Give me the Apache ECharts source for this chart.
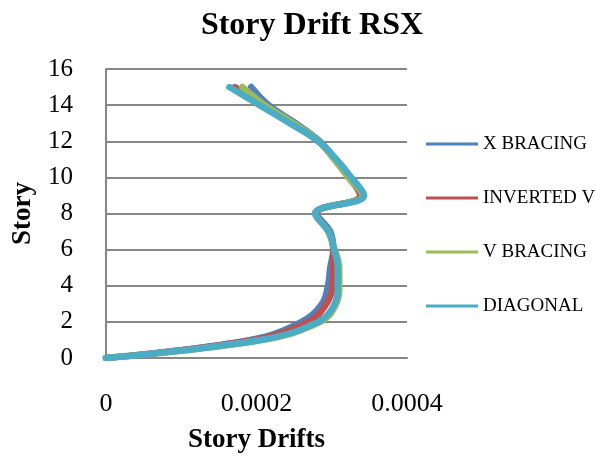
<!DOCTYPE html>
<html>
<head>
<meta charset="utf-8">
<script src="https://cdn.jsdelivr.net/npm/echarts@6/dist/echarts.min.js"></script>
<style>
html,body{margin:0;padding:0;background:#fff;}
#chart{width:595px;height:459px;}
</style>
</head>
<body>
<div id="chart"></div>
<script>
const stories = [0,1,2,3,4,5,6,7,8,9,10,11,12,13,14,15];
const xBracing   = [0,0.000192,0.000260,0.000287,0.000295,0.000298,0.000302,0.000298,0.000280,0.000338,0.000324,0.000305,0.000284,0.000252,0.000216,0.000193];
const invertedV  = [0,0.000196,0.000269,0.000293,0.000301,0.000302,0.000302,0.000296,0.000279,0.000338,0.000323,0.000304,0.000282,0.000246,0.000208,0.000171];
const vBracing   = [0,0.000207,0.000285,0.000306,0.000310,0.000310,0.000304,0.000295,0.000278,0.000341,0.000322,0.000303,0.000283,0.000249,0.000211,0.000181];
const diagonal   = [0,0.000205,0.000282,0.000304,0.000308,0.000308,0.000303,0.000296,0.000278,0.000343,0.000326,0.000306,0.000282,0.000244,0.000204,0.000164];
const seriesNames = ['X BRACING','INVERTED V','V BRACING','DIAGONAL'];
const seriesColors = ['#4F81BD','#C0504D','#9BBB59','#4BACC6'];
const xTicks = [0,0.0002,0.0004];
const yTicks = [0,2,4,6,8,10,12,14,16];

const serif = '"Liberation Serif","Times New Roman",serif';
const allData = [xBracing, invertedV, vBracing, diagonal];

const chart = echarts.init(document.getElementById('chart'), null, {renderer:'canvas'});
chart.setOption({
  animation:false,
  backgroundColor:'#fff',
  title:{
    text:'Story Drift RSX',
    left:307, top:5, textAlign:'center',
    textStyle:{fontFamily:serif,fontWeight:'bold',fontSize:32,color:'#000'}
  },
  legend:{
    orient:'vertical', left:421, top:129,
    icon:'rect', itemWidth:52, itemHeight:3, itemGap:34,
    textStyle:{fontFamily:serif,fontSize:19,color:'#000',lineHeight:20},
    data:seriesNames
  },
  grid:{left:106, top:69, width:301, height:294, containLabel:false},
  xAxis:{
    type:'value', min:0, max:0.0004, interval:0.0002,
    name:'Story Drifts', nameLocation:'middle', nameGap:69,
    nameTextStyle:{fontFamily:serif,fontWeight:'bold',fontSize:27,color:'#000'},
    axisLine:{show:true,lineStyle:{color:'#868686',width:2}},
    axisTick:{show:false},
    splitLine:{show:false},
    axisLabel:{margin:33,fontFamily:serif,fontSize:26,color:'#000',
      formatter:function(v){ const t = xTicks.find(a=>Math.abs(a-v)<1e-9); return t===0?'0':String(t); }}
  },
  yAxis:{
    type:'value', min:0, max:16, interval:2,
    name:'Story', nameLocation:'middle', nameGap:69, nameRotate:90,
    nameTextStyle:{fontFamily:serif,fontWeight:'bold',fontSize:27,color:'#000'},
    axisLine:{show:true,lineStyle:{color:'#868686',width:2}},
    axisTick:{show:false},
    splitLine:{show:true,lineStyle:{color:'#868686',width:2}},
    axisLabel:{margin:33,fontFamily:serif,fontSize:25,color:'#000',
      formatter:function(v){ return String(yTicks.find(a=>a===v)); }}
  },
  series: allData.map((vals,i)=>({
    name:seriesNames[i], type:'line', smooth:0.4,
    showSymbol:false, symbol:'none',
    lineStyle:{width:6.5,color:seriesColors[i],cap:'round',join:'round'},
    itemStyle:{color:seriesColors[i]},
    data: vals.map((v,k)=>[v,stories[k]])
  }))
});
</script>
</body>
</html>
